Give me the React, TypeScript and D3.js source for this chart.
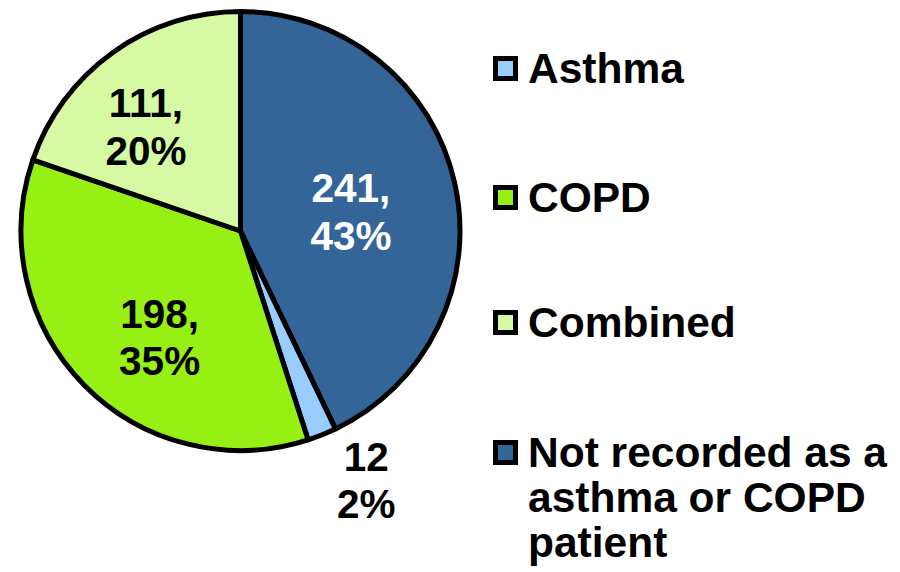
import React from "react";
import * as d3 from "d3";

// Patient groups, clockwise from 12 o'clock
const categories = ["Not recorded as a asthma or COPD patient", "Asthma", "COPD", "Combined"];
const counts = [241, 12, 198, 111];
const colors = ["#346599", "#99ccff", "#96f014", "#d6faa4"];

// Legend order and its wrapped lines
const legendOrder = ["Asthma", "COPD", "Combined", "Not recorded as a asthma or COPD patient"];
const legendLines: string[][] = [
  ["Asthma"],
  ["COPD"],
  ["Combined"],
  ["Not recorded as a", "asthma or COPD", "patient"],
];

const W = 900;
const H = 572;
const FONT = "'Liberation Sans', Arial, Helvetica, sans-serif";

// Pie geometry
const cx = 240.5;
const cy = 231;
const R = 219.5;

// Label placement: radius factor of the centroid arc, plus a small nudge
const labelLayout: Record<string, { k: number; dx: number; dy: number; outside: boolean; color: string }> = {
  "Not recorded as a asthma or COPD patient": { k: 0.6, dx: -18, dy: 10, outside: false, color: "#ffffff" },
  Asthma: { k: 1.15, dx: 32, dy: 15, outside: true, color: "#000000" },
  COPD: { k: 0.6, dx: 13, dy: 14, outside: false, color: "#000000" },
  Combined: { k: 0.6, dx: -18, dy: 3, outside: false, color: "#000000" },
};

export default function App() {
  const total = d3.sum(counts);
  const data = categories.map((c, i) => ({ cat: c, value: counts[i], color: colors[i] }));
  const pie = d3
    .pie<(typeof data)[number]>()
    .sort(null)
    .value((d) => d.value)
    .startAngle(0)
    .endAngle(2 * Math.PI);
  const arcs = pie(data);
  const arc = d3.arc<d3.PieArcDatum<(typeof data)[number]>>().innerRadius(0).outerRadius(R);

  const legendX = 495.5;
  const legendTextX = 528;
  const legendBaselines = [83, 212, 337, 467];
  const legendLineGap = 45;

  return (
    <svg
      width={W}
      height={H}
      style={{ position: "absolute", left: 0, top: 0, background: "#ffffff" }}
      fontFamily={FONT}
      fontWeight="bold"
    >
      <g transform={`translate(${cx},${cy})`}>
        {arcs.map((a) => (
          <path key={a.data.cat} d={arc(a) || ""} fill={a.data.color} stroke="#000" strokeWidth={5} strokeLinejoin="round" />
        ))}
        {arcs.map((a) => {
          const lay = labelLayout[a.data.cat];
          const lr = R * lay.k;
          const la = d3.arc<d3.PieArcDatum<(typeof data)[number]>>().innerRadius(lr).outerRadius(lr);
          const [x0, y0] = la.centroid(a);
          const x = x0 + lay.dx;
          const y = y0 + lay.dy;
          const pct = Math.round((a.data.value / total) * 100);
          const first = lay.outside ? `${a.data.value}` : `${a.data.value},`;
          return (
            <text key={`l-${a.data.cat}`} x={x} y={y} textAnchor="middle" fontSize={40.5} fill={lay.color}>
              <tspan x={x} y={y - 9.5}>{first}</tspan>
              <tspan x={x} y={y + 38}>{`${pct}%`}</tspan>
            </text>
          );
        })}
      </g>
      {legendOrder.map((cat, i) => {
        const b = legendBaselines[i];
        const color = colors[categories.indexOf(cat)];
        return (
          <g key={`lg-${cat}`}>
            <rect x={legendX} y={b - 24.5} width={20} height={20} fill={color} stroke="#000" strokeWidth={5} />
            <text x={legendTextX} y={b} fontSize={42.5} fill="#000">
              {legendLines[i].map((ln, j) => (
                <tspan key={j} x={legendTextX} y={b + j * legendLineGap}>
                  {ln}
                </tspan>
              ))}
            </text>
          </g>
        );
      })}
    </svg>
  );
}
